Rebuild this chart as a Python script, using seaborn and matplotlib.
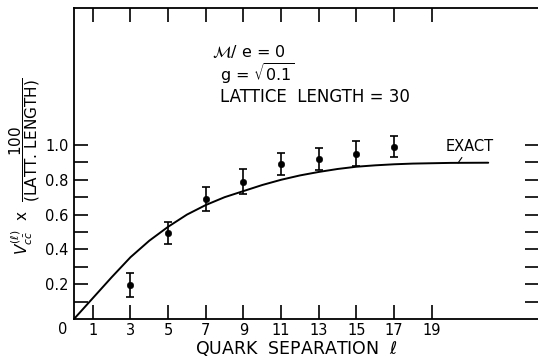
import matplotlib
matplotlib.use("Agg")
import matplotlib.pyplot as plt
import seaborn as sns
import pandas as pd

# Data
sep = [3, 5, 7, 9, 11, 13, 15, 17]
v_mc = [0.195, 0.495, 0.69, 0.79, 0.89, 0.92, 0.95, 0.99]
v_err = [0.07, 0.065, 0.07, 0.07, 0.065, 0.065, 0.07, 0.06]

exact_x = [0, 1, 2, 3, 4, 5, 6, 7, 8, 9, 10, 11, 12, 13, 14, 15, 16, 17, 18, 19, 20, 22]
exact_y = [0.0, 0.12, 0.24, 0.355, 0.45, 0.53, 0.60, 0.655, 0.70, 0.735, 0.77, 0.80,
           0.825, 0.845, 0.862, 0.875, 0.883, 0.889, 0.893, 0.895, 0.897, 0.898]

xticks = [1, 3, 5, 7, 9, 11, 13, 15, 17, 19]
yticks_major = [0.2, 0.4, 0.6, 0.8, 1.0]
ytick_labels = ["0.2", "0.4", "0.6", "0.8", "1.0"]
yticks_minor = [0.1, 0.3, 0.5, 0.7, 0.9]

sns.set_theme(style="white")
plt.rcParams["font.family"] = ["DejaVu Sans"]
plt.rcParams["text.color"] = "black"
plt.rcParams["axes.labelcolor"] = "black"
plt.rcParams["xtick.color"] = "black"
plt.rcParams["ytick.color"] = "black"

fig = plt.figure(figsize=(5.38, 3.62), dpi=100)
ax = fig.add_axes([74 / 538, 43 / 362, 1 - 74 / 538 + 0.002, (319 - 8) / 362])

df_exact = pd.DataFrame({"x": exact_x, "y": exact_y})
df_mc = pd.DataFrame({"x": sep, "y": v_mc, "e": v_err})

sns.lineplot(data=df_exact, x="x", y="y", ax=ax, color="black", lw=1.4)
ax.errorbar(df_mc["x"], df_mc["y"], yerr=df_mc["e"], fmt="none", ecolor="black",
            elinewidth=1.2, capsize=3, capthick=1.2)
sns.scatterplot(data=df_mc, x="x", y="y", ax=ax, color="black", s=22, edgecolor="black",
                zorder=5)

ax.set_xlim(0, 24.7)
ax.set_ylim(0, 1.787)

for side in ["left", "bottom", "top"]:
    ax.spines[side].set_visible(True)
    ax.spines[side].set_color("black")
    ax.spines[side].set_linewidth(1.3)
ax.spines["right"].set_visible(False)

ax.set_xticks(xticks)
ax.set_xticklabels([str(t) for t in xticks])
ax.set_yticks(yticks_major)
ax.set_yticklabels(ytick_labels)
ax.set_yticks(yticks_minor, minor=True)
ax.tick_params(axis="x", which="both", direction="in", length=10, width=1.2,
               top=True, bottom=True, labelsize=10.5, pad=3)
ax.tick_params(axis="y", which="both", direction="in", length=10, width=1.2,
               left=True, right=True, labelsize=10.5, pad=4)
ax.grid(False)

fig.text(63 / 538, 1 - 329 / 362, "0", ha="center", va="center", fontsize=10.5)

ax.set_xlabel(r"QUARK  SEPARATION  $\ell$", fontsize=12.5)
ax.xaxis.set_label_coords((296 - 74) / 464, -0.065)
ax.set_ylabel(r"$V^{(\ell)}_{c\bar{c}}$  x  $\dfrac{100}{\mathrm{(LATT.\,LENGTH)}}$",
              fontsize=11)
ax.yaxis.set_label_coords((42 - 74) / 464, 0.49)

fig.text(212 / 538, 1 - 52 / 362, r"$\mathcal{M}$/ e = 0", fontsize=11.5, va="center")
fig.text(220 / 538, 1 - 74 / 362, r"g = $\sqrt{0.1}$", fontsize=11.5, va="center")
fig.text(220 / 538, 1 - 97 / 362, "LATTICE  LENGTH = 30", fontsize=12, va="center")
ax.annotate("EXACT", xy=(20.4, 0.897), xytext=(21.0, 0.99), fontsize=10.5,
            ha="center", va="center",
            arrowprops=dict(arrowstyle="-", color="black", lw=0.8, shrinkA=6, shrinkB=0))

fig.savefig("out.png", dpi=100)
